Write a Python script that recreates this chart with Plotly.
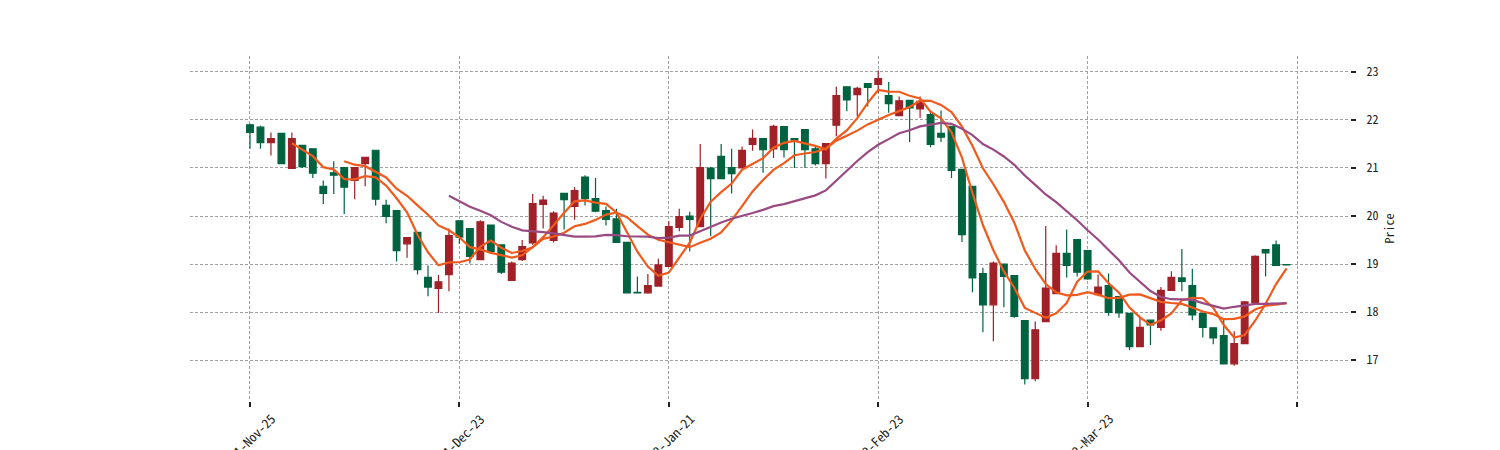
import pandas as pd
import plotly.graph_objects as go

# ---- data ----
opens = [21.90, 21.85, 21.53, 21.72, 20.99, 21.47, 21.40, 20.62, 20.90, 21.01,
         20.74, 21.09, 21.37, 20.22, 20.11, 19.42, 19.66, 18.72, 18.49, 18.78,
         19.90, 19.74, 19.09, 19.81, 19.40, 18.66, 19.09, 19.44, 20.24, 19.49,
         20.47, 20.20, 20.81, 20.36, 20.11, 19.94, 19.45, 18.41, 18.40, 18.54,
         18.95, 19.76, 20.00, 19.78, 21.00, 21.24, 21.01, 21.00, 21.49, 21.61,
         21.40, 21.86, 21.61, 21.80, 21.40, 21.09, 21.89, 22.69, 22.53, 22.76,
         22.74, 22.51, 22.09, 22.41, 22.23, 22.11, 21.72, 21.87, 20.97, 20.62,
         18.80, 18.15, 19.00, 18.76, 17.82, 16.61, 17.80, 18.38, 19.22, 19.51,
         19.28, 18.36, 18.55, 18.32, 17.97, 17.28, 17.83, 17.68, 18.45, 18.71,
         18.55, 17.97, 17.67, 17.51, 16.92, 17.34, 18.20, 19.30, 19.40, 18.99]
highs = [21.92, 21.88, 21.74, 21.72, 21.74, 21.47, 21.40, 20.74, 21.14, 21.01,
         21.01, 21.22, 21.37, 20.34, 20.11, 19.55, 19.66, 18.97, 18.77, 19.74,
         19.90, 19.74, 19.91, 19.81, 19.40, 19.05, 19.50, 20.46, 20.42, 20.10,
         20.47, 20.60, 20.85, 20.79, 20.20, 20.15, 19.45, 18.74, 18.79, 19.11,
         19.89, 20.15, 20.09, 21.50, 21.02, 21.50, 21.40, 21.45, 21.80, 21.61,
         21.90, 21.86, 21.61, 21.80, 21.48, 21.52, 22.69, 22.69, 22.69, 22.76,
         23.03, 22.79, 22.49, 22.41, 22.49, 22.20, 22.20, 21.87, 20.97, 20.62,
         18.92, 19.05, 19.00, 18.76, 17.82, 17.80, 19.79, 19.39, 19.72, 19.51,
         19.28, 18.78, 18.80, 18.32, 17.97, 17.88, 17.83, 18.52, 18.85, 19.31,
         18.90, 17.97, 17.67, 17.84, 17.60, 18.23, 19.18, 19.30, 19.49, 18.99]
lows = [21.40, 21.40, 21.26, 21.09, 20.99, 21.00, 20.79, 20.25, 20.46, 20.04,
        20.35, 20.62, 20.22, 19.85, 19.05, 19.13, 18.78, 18.33, 17.98, 18.43,
        19.42, 19.01, 19.09, 19.24, 18.79, 18.66, 19.06, 19.40, 19.74, 19.45,
        19.72, 19.92, 20.22, 20.08, 19.80, 19.45, 18.40, 18.39, 18.38, 18.54,
        18.95, 19.68, 19.26, 19.78, 19.58, 20.78, 20.47, 21.00, 21.36, 20.90,
        21.21, 21.22, 21.00, 21.00, 21.05, 20.78, 21.66, 22.18, 22.08, 22.28,
        22.56, 22.15, 22.09, 21.54, 22.04, 21.43, 21.54, 20.79, 19.46, 18.41,
        17.58, 17.39, 18.10, 17.88, 16.49, 16.56, 17.80, 18.38, 18.72, 18.74,
        18.67, 18.33, 17.92, 17.88, 17.21, 17.28, 17.31, 17.61, 18.45, 18.43,
        17.83, 17.47, 17.33, 16.92, 16.88, 17.34, 18.20, 18.74, 18.97, 18.97]
closes = [21.74, 21.53, 21.61, 21.09, 21.61, 21.03, 20.89, 20.47, 20.85, 20.60,
          21.01, 21.22, 20.35, 19.99, 19.28, 19.55, 18.88, 18.52, 18.63, 19.59,
          19.56, 19.16, 19.88, 19.26, 18.83, 19.02, 19.36, 20.26, 20.33, 20.06,
          20.34, 20.53, 20.36, 20.10, 19.93, 19.45, 18.40, 18.40, 18.55, 18.98,
          19.78, 19.99, 19.93, 21.01, 20.78, 20.78, 20.88, 21.37, 21.62, 21.38,
          21.87, 21.38, 21.58, 21.38, 21.09, 21.51, 22.51, 22.42, 22.66, 22.68,
          22.86, 22.34, 22.40, 22.25, 22.39, 21.49, 21.64, 20.95, 19.61, 18.71,
          18.15, 19.02, 18.74, 17.91, 16.61, 17.63, 18.50, 19.22, 18.97, 18.83,
          18.69, 18.52, 17.99, 17.98, 17.28, 17.68, 17.73, 18.45, 18.72, 18.64,
          17.94, 17.68, 17.46, 16.92, 17.34, 18.21, 19.16, 19.23, 18.97, 18.98]

tick_positions = [0, 20, 40, 60, 80, 100]
tick_labels = ["2021-Nov-25", "2021-Dec-23", "2022-Jan-21", "2022-Feb-23", "2022-Mar-23", ""]
price_ticks = [17, 18, 19, 20, 21, 22, 23]
ma_windows = [5, 10, 20]
ma_colors = ["#F05A1C", "#F05A1C", "#9A4A82"]

UP = "#A02128"    # rising candles (red)
DOWN = "#006340"  # falling candles (green)

idx = list(range(len(closes)))
close_s = pd.Series(closes)

fig = go.Figure()
fig.add_trace(go.Candlestick(
    x=idx, open=opens, high=highs, low=lows, close=closes,
    increasing=dict(line=dict(color=UP, width=1.2), fillcolor=UP),
    decreasing=dict(line=dict(color=DOWN, width=1.2), fillcolor=DOWN),
    whiskerwidth=0, showlegend=False,
))
for w, c in zip(ma_windows, ma_colors):
    ma = close_s.rolling(w).mean()
    fig.add_trace(go.Scatter(x=idx, y=ma, mode="lines",
                             line=dict(color=c, width=2.2), showlegend=False))

FONT = "Noto Sans Mono CJK SC, Noto Sans CJK SC, DejaVu Sans Mono"
for pos, lab in zip(tick_positions, tick_labels):
    if lab:
        fig.add_annotation(x=pos, y=0, xref="x", yref="paper", text=lab,
                           textangle=-45, showarrow=False, xanchor="center",
                           yanchor="top", yshift=-5, xshift=-3,
                           font=dict(family=FONT, size=13, color="#222"))

grid = dict(showgrid=True, gridcolor="#a0a0a0", gridwidth=0.8, griddash="3px,2px")
# page body adds an 8px offset; margins compensate so the plot area lands at x 190-1350, y 56-401
fig.update_layout(
    width=1500, height=450,
    margin=dict(l=182, r=158, t=48, b=57, autoexpand=False),
    paper_bgcolor="white", plot_bgcolor="white",
    boxgap=0.2, boxgroupgap=0.2,
    xaxis=dict(range=[-5.73, 105.06], tickvals=tick_positions, showticklabels=False,
               ticks="outside", ticklen=5, tickwidth=1.5, tickcolor="#222",
               zeroline=False, showline=False, automargin=False,
               rangeslider=dict(visible=False), **grid),
    yaxis=dict(range=[16.146, 23.333], side="right", tickvals=price_ticks,
               ticks="outside", ticklen=5, tickwidth=1.8, tickcolor="#222",
               ticklabelstandoff=8, automargin=False,
               tickfont=dict(family=FONT, size=12, color="#222"),
               title=dict(text="Price", standoff=8,
                          font=dict(family=FONT, size=12, color="#222")),
               zeroline=False, showline=False, **grid),
)

fig.write_html("out.html")
